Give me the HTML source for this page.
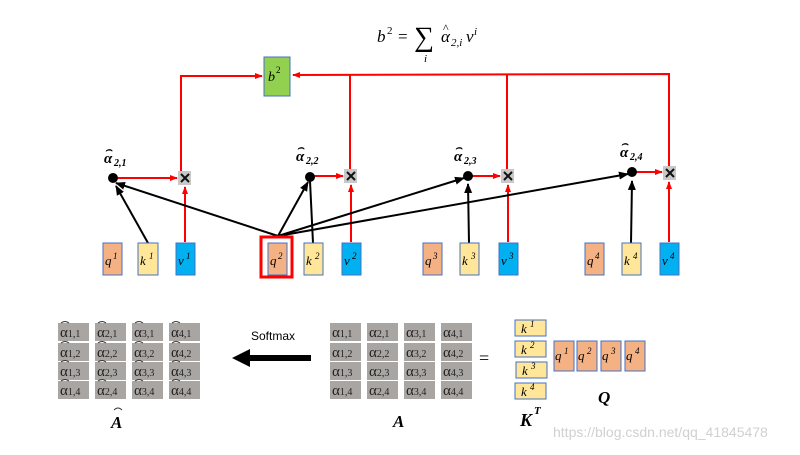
<!DOCTYPE html>
<html><head><style>
body{margin:0;background:#fff;}
svg text{font-family:"Liberation Serif",serif;}
.c{fill:#a9a5a3}
.ct{font-size:15px;fill:#222;font-family:"Liberation Serif",serif}
.ct tspan{font-size:10px}
</style></head><body>
<svg width="800" height="450" xmlns="http://www.w3.org/2000/svg">
<defs>
<marker id="ar" markerWidth="8" markerHeight="8" refX="7" refY="4" orient="auto" markerUnits="userSpaceOnUse"><path d="M0,1 L8,4 L0,7z" fill="red"/></marker>
<marker id="ak" markerWidth="10" markerHeight="10" refX="9" refY="5" orient="auto" markerUnits="userSpaceOnUse"><path d="M0,1 L10,5 L0,9z" fill="#000"/></marker>
</defs>
<!-- formula -->
<text x="377" y="42" font-size="17" font-style="italic">b</text><text x="387" y="34" font-size="11">2</text>
<text x="398" y="42" font-size="17">=</text>
<text x="414" y="46" font-size="28">∑</text>
<text x="424" y="62" font-size="11" font-style="italic">i</text>
<text x="441" y="42" font-size="17" font-style="italic">α</text><text x="443" y="32" font-size="12">^</text><text x="451" y="46" font-size="11" font-style="italic">2,i</text>
<text x="466" y="42" font-size="17" font-style="italic">v</text><text x="474" y="35" font-size="11" font-style="italic">i</text>
<!-- b2 -->
<rect x="264" y="57" width="26" height="39" fill="#92d050" stroke="#4472c4"/>
<text x="268" y="81" font-size="14" font-style="italic">b</text><text x="276" y="73" font-size="9">2</text>
<g stroke="red" stroke-width="2" fill="none">
<polyline points="181,175 181,76 262,76" marker-end="url(#ar)"/>
<polyline points="669,167 669,74 293,75" marker-end="url(#ar)"/>
<line x1="350" y1="75" x2="350" y2="170"/>
<line x1="507" y1="74" x2="507" y2="171"/>
<line x1="113" y1="178" x2="177" y2="178" marker-end="url(#ar)"/>
<line x1="310" y1="176" x2="343" y2="176" marker-end="url(#ar)"/>
<line x1="468" y1="176" x2="500" y2="176" marker-end="url(#ar)"/>
<line x1="632" y1="172" x2="662" y2="172" marker-end="url(#ar)"/>
<line x1="185" y1="242" x2="185" y2="187" marker-end="url(#ar)"/>
<line x1="351" y1="242" x2="351" y2="185" marker-end="url(#ar)"/>
<line x1="508" y1="242" x2="508" y2="185" marker-end="url(#ar)"/>
<line x1="669" y1="242" x2="669" y2="182" marker-end="url(#ar)"/>
</g>
<g fill="#c8c8c8"><rect x="178" y="171" width="13" height="14"/><rect x="344" y="169" width="13" height="14"/><rect x="501" y="169" width="13" height="14"/><rect x="663" y="166" width="13" height="14"/></g>
<g stroke="#111" stroke-width="2">
<path d="M181,174 l8,8 M189,174 l-8,8"/><path d="M347,172 l8,8 M355,172 l-8,8"/><path d="M504,172 l8,8 M512,172 l-8,8"/><path d="M666,169 l8,8 M674,169 l-8,8"/>
</g>
<g stroke="#000" stroke-width="2" fill="none">
<line x1="148" y1="243" x2="116" y2="186" marker-end="url(#ak)"/>
<line x1="278" y1="236" x2="116" y2="183" marker-end="url(#ak)"/>
<line x1="278" y1="236" x2="308" y2="182" marker-end="url(#ak)"/>
<line x1="313" y1="243" x2="310" y2="181"/>
<line x1="278" y1="236" x2="464" y2="178" marker-end="url(#ak)"/>
<line x1="278" y1="236" x2="628" y2="174" marker-end="url(#ak)"/>
<line x1="469" y1="243" x2="468" y2="184" marker-end="url(#ak)"/>
<line x1="631" y1="243" x2="632" y2="181" marker-end="url(#ak)"/>
</g>
<g fill="#000"><circle cx="113" cy="178" r="5"/><circle cx="310" cy="177" r="5"/><circle cx="468" cy="176" r="5"/><circle cx="632" cy="172" r="5"/></g>
<g font-size="15" font-weight="bold" font-style="italic">
<text x="104" y="163">α</text><text x="105" y="153" font-size="11">⌢</text><text x="114" y="166" font-size="10">2,1</text>
<text x="296" y="161">α</text><text x="297" y="151" font-size="11">⌢</text><text x="306" y="164" font-size="10">2,2</text>
<text x="454" y="161">α</text><text x="455" y="151" font-size="11">⌢</text><text x="464" y="164" font-size="10">2,3</text>
<text x="620" y="157">α</text><text x="621" y="147" font-size="11">⌢</text><text x="630" y="160" font-size="10">2,4</text>
</g>
<!-- bottom vectors -->
<g stroke="#4472c4" stroke-width="1">
<rect x="103" y="243" width="19" height="32" fill="#f4b183"/>
<rect x="138" y="243" width="20" height="32" fill="#ffe699"/>
<rect x="176" y="243" width="19" height="32" fill="#00b0f0"/>
<rect x="268" y="243" width="19" height="32" fill="#f4b183"/>
<rect x="304" y="243" width="19" height="32" fill="#ffe699"/>
<rect x="342" y="243" width="19" height="32" fill="#00b0f0"/>
<rect x="423" y="243" width="19" height="32" fill="#f4b183"/>
<rect x="460" y="243" width="19" height="32" fill="#ffe699"/>
<rect x="499" y="243" width="19" height="32" fill="#00b0f0"/>
<rect x="585" y="243" width="19" height="32" fill="#f4b183"/>
<rect x="622" y="243" width="19" height="32" fill="#ffe699"/>
<rect x="660" y="243" width="19" height="32" fill="#00b0f0"/>
</g>
<rect x="261" y="237" width="31" height="40" fill="none" stroke="red" stroke-width="3"/>
<g font-size="13" font-style="italic">
<text x="105" y="265">q</text><text x="113" y="259" font-size="9">1</text>
<text x="140" y="265">k</text><text x="149" y="259" font-size="9">1</text>
<text x="178" y="265">v</text><text x="186" y="259" font-size="9">1</text>
<text x="270" y="265">q</text><text x="278" y="259" font-size="9">2</text>
<text x="306" y="265">k</text><text x="315" y="259" font-size="9">2</text>
<text x="344" y="265">v</text><text x="352" y="259" font-size="9">2</text>
<text x="425" y="265">q</text><text x="433" y="259" font-size="9">3</text>
<text x="462" y="265">k</text><text x="471" y="259" font-size="9">3</text>
<text x="501" y="265">v</text><text x="509" y="259" font-size="9">3</text>
<text x="587" y="265">q</text><text x="595" y="259" font-size="9">4</text>
<text x="624" y="265">k</text><text x="633" y="259" font-size="9">4</text>
<text x="662" y="265">v</text><text x="670" y="259" font-size="9">4</text>
</g>
<!-- matrices -->
<g id="m">
<rect class="c" x="58" y="323" width="31" height="18"/><rect class="c" x="95" y="323" width="31" height="18"/><rect class="c" x="132" y="323" width="31" height="18"/><rect class="c" x="169" y="323" width="31" height="18"/>
<rect class="c" x="58" y="343" width="31" height="18"/><rect class="c" x="95" y="343" width="31" height="18"/><rect class="c" x="132" y="343" width="31" height="18"/><rect class="c" x="169" y="343" width="31" height="18"/>
<rect class="c" x="58" y="362" width="31" height="18"/><rect class="c" x="95" y="362" width="31" height="18"/><rect class="c" x="132" y="362" width="31" height="18"/><rect class="c" x="169" y="362" width="31" height="18"/>
<rect class="c" x="58" y="381" width="31" height="18"/><rect class="c" x="95" y="381" width="31" height="18"/><rect class="c" x="132" y="381" width="31" height="18"/><rect class="c" x="169" y="381" width="31" height="18"/>
</g>
<use href="#m" x="272"/>
<g class="ct">
<text x="60" y="337">α<tspan>1,1</tspan></text><text x="97" y="337">α<tspan>2,1</tspan></text><text x="134" y="337">α<tspan>3,1</tspan></text><text x="171" y="337">α<tspan>4,1</tspan></text>
<text x="60" y="357">α<tspan>1,2</tspan></text><text x="97" y="357">α<tspan>2,2</tspan></text><text x="134" y="357">α<tspan>3,2</tspan></text><text x="171" y="357">α<tspan>4,2</tspan></text>
<text x="60" y="376">α<tspan>1,3</tspan></text><text x="97" y="376">α<tspan>2,3</tspan></text><text x="134" y="376">α<tspan>3,3</tspan></text><text x="171" y="376">α<tspan>4,3</tspan></text>
<text x="60" y="395">α<tspan>1,4</tspan></text><text x="97" y="395">α<tspan>2,4</tspan></text><text x="134" y="395">α<tspan>3,4</tspan></text><text x="171" y="395">α<tspan>4,4</tspan></text>
</g>
<g class="ct" transform="translate(272,0)">
<text x="60" y="337">α<tspan>1,1</tspan></text><text x="97" y="337">α<tspan>2,1</tspan></text><text x="134" y="337">α<tspan>3,1</tspan></text><text x="171" y="337">α<tspan>4,1</tspan></text>
<text x="60" y="357">α<tspan>1,2</tspan></text><text x="97" y="357">α<tspan>2,2</tspan></text><text x="134" y="357">α<tspan>3,2</tspan></text><text x="171" y="357">α<tspan>4,2</tspan></text>
<text x="60" y="376">α<tspan>1,3</tspan></text><text x="97" y="376">α<tspan>2,3</tspan></text><text x="134" y="376">α<tspan>3,3</tspan></text><text x="171" y="376">α<tspan>4,3</tspan></text>
<text x="60" y="395">α<tspan>1,4</tspan></text><text x="97" y="395">α<tspan>2,4</tspan></text><text x="134" y="395">α<tspan>3,4</tspan></text><text x="171" y="395">α<tspan>4,4</tspan></text>
</g>
<g stroke="#333" fill="none" stroke-width="1">
<path d="M61,323 q4,-3 8,0"/><path d="M98,323 q4,-3 8,0"/><path d="M135,323 q4,-3 8,0"/><path d="M172,323 q4,-3 8,0"/>
<path d="M61,343 q4,-3 8,0"/><path d="M98,343 q4,-3 8,0"/><path d="M135,343 q4,-3 8,0"/><path d="M172,343 q4,-3 8,0"/>
<path d="M61,362 q4,-3 8,0"/><path d="M98,362 q4,-3 8,0"/><path d="M135,362 q4,-3 8,0"/><path d="M172,362 q4,-3 8,0"/>
<path d="M61,381 q4,-3 8,0"/><path d="M98,381 q4,-3 8,0"/><path d="M135,381 q4,-3 8,0"/><path d="M172,381 q4,-3 8,0"/>
<path d="M114,410 q4,-4 8,0"/>
</g>
<text x="251" y="340" font-size="12" style="font-family:'Liberation Sans'">Softmax</text>
<rect x="246" y="355" width="65" height="6" fill="#000"/>
<path d="M232,358 L250,349 L250,367z" fill="#000"/>
<text x="111" y="428" font-size="17" font-weight="bold" font-style="italic">A</text>
<text x="393" y="427" font-size="17" font-weight="bold" font-style="italic">A</text>
<text x="479" y="364" font-size="18">=</text>
<g stroke="#4472c4" fill="#ffe699">
<rect x="515" y="320" width="31" height="16"/><rect x="515" y="341" width="31" height="16"/><rect x="516" y="362" width="31" height="16"/><rect x="515" y="383" width="31" height="16"/>
</g>
<g stroke="#4472c4" fill="#f4b183">
<rect x="554" y="341" width="20" height="30"/><rect x="577" y="341" width="20" height="30"/><rect x="601" y="341" width="20" height="30"/><rect x="625" y="341" width="20" height="30"/>
</g>
<g font-size="13" font-style="italic">
<text x="521" y="333">k</text><text x="530" y="327" font-size="9">1</text>
<text x="521" y="354">k</text><text x="530" y="348" font-size="9">2</text>
<text x="522" y="375">k</text><text x="531" y="369" font-size="9">3</text>
<text x="521" y="396">k</text><text x="530" y="390" font-size="9">4</text>
<text x="555" y="360">q</text><text x="564" y="354" font-size="9">1</text>
<text x="578" y="360">q</text><text x="587" y="354" font-size="9">2</text>
<text x="602" y="360">q</text><text x="611" y="354" font-size="9">3</text>
<text x="626" y="360">q</text><text x="635" y="354" font-size="9">4</text>
</g>
<text x="520" y="426" font-size="18" font-weight="bold" font-style="italic">K</text><text x="534" y="414" font-size="11" font-weight="bold" font-style="italic">T</text>
<text x="598" y="403" font-size="17" font-weight="bold" font-style="italic">Q</text>
<text x="553" y="437" font-size="14" fill="#d0d0d0" style="font-family:'Liberation Sans'">https://blog.csdn.net/qq_41845478</text>
</svg>
</body></html>
